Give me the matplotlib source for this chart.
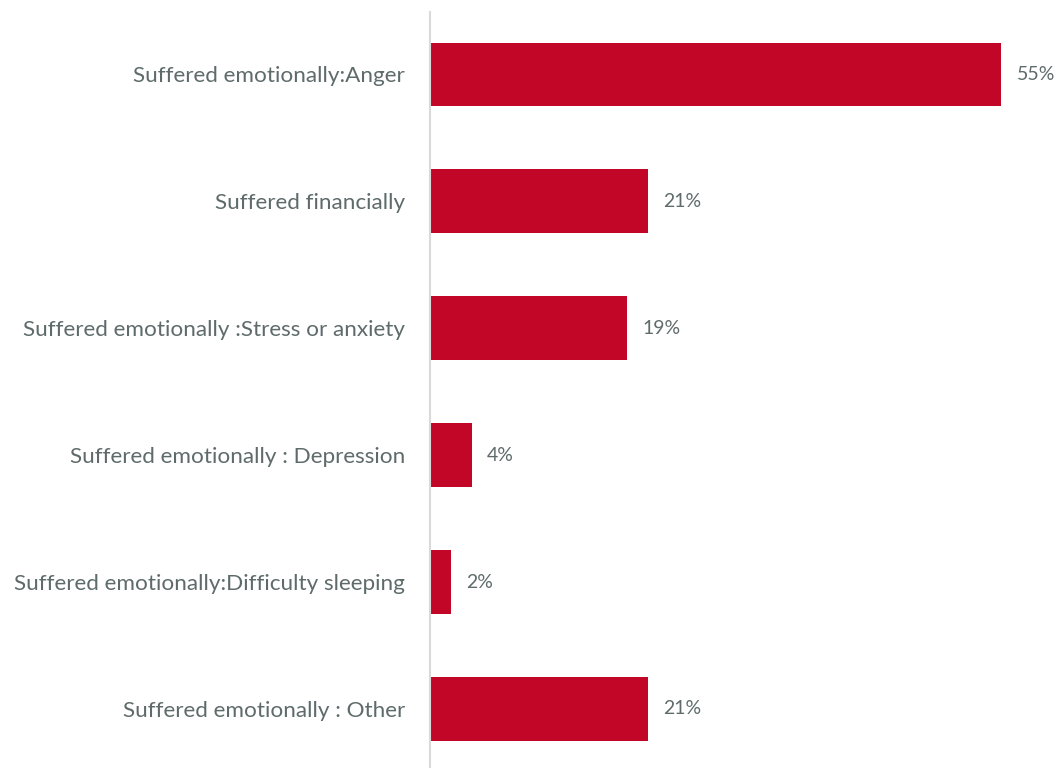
import matplotlib
matplotlib.use("Agg")
import matplotlib.pyplot as plt

plt.rcParams['font.family'] = ['Lato', 'DejaVu Sans']

categorias = [
    "Suffered emotionally:Anger",
    "Suffered financially",
    "Suffered emotionally :Stress or anxiety",
    "Suffered emotionally : Depression",
    "Suffered emotionally:Difficulty sleeping",
    "Suffered emotionally : Other",
]
valores = [55, 21, 19, 4, 2, 21]

rojo = "#C20627"
gris = "#5f6b6b"

fig = plt.figure(figsize=(10.57, 7.68), dpi=100)
ax = fig.add_axes([0.4068, 0.0, 0.5894, 0.984])

pos = list(range(len(categorias)))
ax.barh(pos, valores, height=0.5, color=rojo)

for p, v in zip(pos, valores):
    ax.text(v + 1.5, p, f"{v}%", va="center", ha="left", fontsize=14, color=gris)

ax.set_xlim(0, 60)
ax.set_ylim(5.465, -0.488)
ax.set_yticks(pos)
ax.set_yticklabels(categorias, fontsize=16.2, color=gris)
ax.tick_params(axis="y", length=0, pad=18)
ax.set_xticks([])

for lado in ["top", "right", "bottom"]:
    ax.spines[lado].set_visible(False)
ax.spines["left"].set_color("#d9d9d9")
ax.spines["left"].set_linewidth(1.5)

fig.savefig("out.png", dpi=100)
